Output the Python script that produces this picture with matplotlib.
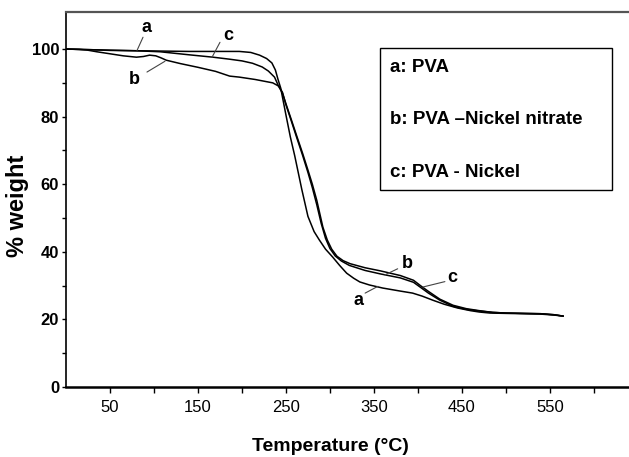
import matplotlib
matplotlib.use("Agg")
import matplotlib.pyplot as plt
from matplotlib.patches import Rectangle

plt.rcParams['font.family'] = ['Liberation Sans', 'DejaVu Sans']

# TGA curves: temperature (°C) vs % weight
a_temp = [0, 15, 30, 50, 80, 110, 140, 170, 197, 210, 220, 228, 234, 238, 241, 244,
          250, 255, 260, 268, 275, 282, 288, 295, 303, 311, 319, 327, 334, 345, 360,
          380, 394, 405, 417, 430, 445, 460, 470, 482, 500, 520, 539, 555, 565]
a_weight = [100, 99.9, 99.8, 99.6, 99.5, 99.4, 99.3, 99.3, 99.3, 99.0, 98.2, 97.2, 95.9,
            93.8, 91.0, 88.5, 80.5, 74.0, 68.4, 58.5, 50.5, 46.0, 43.5, 40.8, 38.5, 36.0,
            33.7, 32.2, 31.1, 30.2, 29.3, 28.4, 27.8, 26.9, 25.7, 24.5, 23.4, 22.6, 22.2,
            21.9, 21.8, 21.7, 21.6, 21.3, 21.0]

b_temp = [0, 15, 24, 35, 50, 65, 80, 88, 95, 102, 108, 114, 130, 150, 170, 186, 197,
          215, 235, 242, 246, 250, 256, 262, 269, 275, 280, 285, 290, 295, 300, 306,
          313, 322, 340, 357, 380, 395, 403, 412, 425, 440, 455, 470, 485, 500, 520,
          540, 555, 565]
b_weight = [100, 99.9, 99.7, 99.2, 98.6, 98.0, 97.6, 97.8, 98.2, 98.0, 97.4, 96.7, 95.7,
            94.6, 93.4, 92.0, 91.7, 91.0, 90.0, 89.0, 87.2, 83.5, 78.8, 74.0, 68.5, 63.5,
            59.0, 54.0, 48.5, 44.0, 41.0, 38.8, 37.3, 36.0, 34.5, 33.5, 32.3, 31.0, 29.5,
            27.8, 25.7, 23.9, 23.0, 22.5, 22.1, 21.9, 21.8, 21.7, 21.4, 21.0]

c_temp = [0, 30, 80, 107, 140, 167, 186, 200, 212, 223, 230, 237, 242, 246, 250, 256,
          262, 269, 275, 280, 285, 292, 297, 302, 308, 315, 323, 340, 357, 380, 395,
          403, 412, 425, 440, 455, 470, 485, 500, 520, 540, 555, 565]
c_weight = [100, 99.8, 99.5, 99.2, 98.3, 97.6, 97.0, 96.5, 95.8, 94.7, 93.5, 91.7, 88.8,
            87.0, 83.8, 79.2, 74.5, 69.1, 64.2, 60.0, 55.3, 47.3, 43.5, 40.8, 38.7, 37.4,
            36.5, 35.3, 34.4, 33.0, 31.6, 30.0, 28.3, 26.0, 24.2, 23.2, 22.6, 22.1, 21.9,
            21.8, 21.7, 21.4, 21.0]

legend_lines = ["a: PVA", "b: PVA \u2013Nickel nitrate", "c: PVA - Nickel"]
x_major = [50, 150, 250, 350, 450, 550]
x_minor = [100, 200, 300, 400, 500, 600]
y_major = [0, 20, 40, 60, 80, 100]
y_minor = [10, 30, 50, 70, 90]

fig = plt.figure(figsize=(6.29, 4.57), dpi=100)
ax = fig.add_axes([0.105, 0.153, 0.895, 0.821])

for t, w in [(a_temp, a_weight), (b_temp, b_weight), (c_temp, c_weight)]:
    ax.plot(t, w, color='black', linewidth=1.1)

ax.set_xlim(0, 640)
ax.set_ylim(0, 111)

ax.set_xticks(x_major)
ax.set_xticks(x_minor, minor=True)
ax.set_yticks(y_major)
ax.set_yticks(y_minor, minor=True)
ax.tick_params(axis='x', which='both', direction='out', length=4, width=1, pad=5, labelsize=12)
ax.tick_params(axis='y', which='both', direction='out', length=3, width=1, pad=2, labelsize=12)
for lab in ax.get_yticklabels():
    lab.set_fontweight('bold')

ax.spines['right'].set_visible(False)
ax.spines['top'].set_color('#555555')
ax.spines['top'].set_linewidth(1.6)
ax.spines['bottom'].set_linewidth(1.8)
ax.spines['left'].set_linewidth(1.2)

# axis titles placed directly on the figure
fig.text(0.526, 0.022, 'Temperature (\u00b0C)', fontsize=14, fontweight='bold',
         ha='center', va='center')
fig.text(0.028, 0.549, '% weight', fontsize=17, fontweight='bold', rotation=90,
         ha='center', va='center')

# curve labels with leader lines
leader = dict(arrowstyle='-', color='#444444', linewidth=0.8, shrinkA=0, shrinkB=0)
labels = [
    ('a', (80.7, 99.6), (92, 106.5), (87.5, 103.5)),
    ('c', (166, 97.6), (184, 104), (175, 102)),
    ('b', (112.5, 96.4), (78, 91), (92, 93.2)),
    ('b', (362.5, 33.2), (387.5, 36.5), (377, 35)),
    ('c', (405.7, 29.6), (438.6, 32.5), (430.7, 31.2)),
    ('a', (354.5, 29.8), (332, 25.5), (340, 27.8)),
]
for s, end, txt, start in labels:
    ax.annotate('', xy=end, xytext=start, arrowprops=leader)
    ax.text(txt[0], txt[1], s, fontsize=13, fontweight='bold', ha='center', va='center')

# legend box
ax.add_patch(Rectangle((0.558, 0.525), 0.412, 0.379, transform=ax.transAxes,
                       fill=False, edgecolor='black', linewidth=1.0))
for s, yy in zip(legend_lines, [0.851, 0.712, 0.571]):
    ax.text(0.575, yy, s, transform=ax.transAxes, fontsize=13.5, fontweight='bold',
            ha='left', va='center')

fig.savefig('out.png', dpi=100)
